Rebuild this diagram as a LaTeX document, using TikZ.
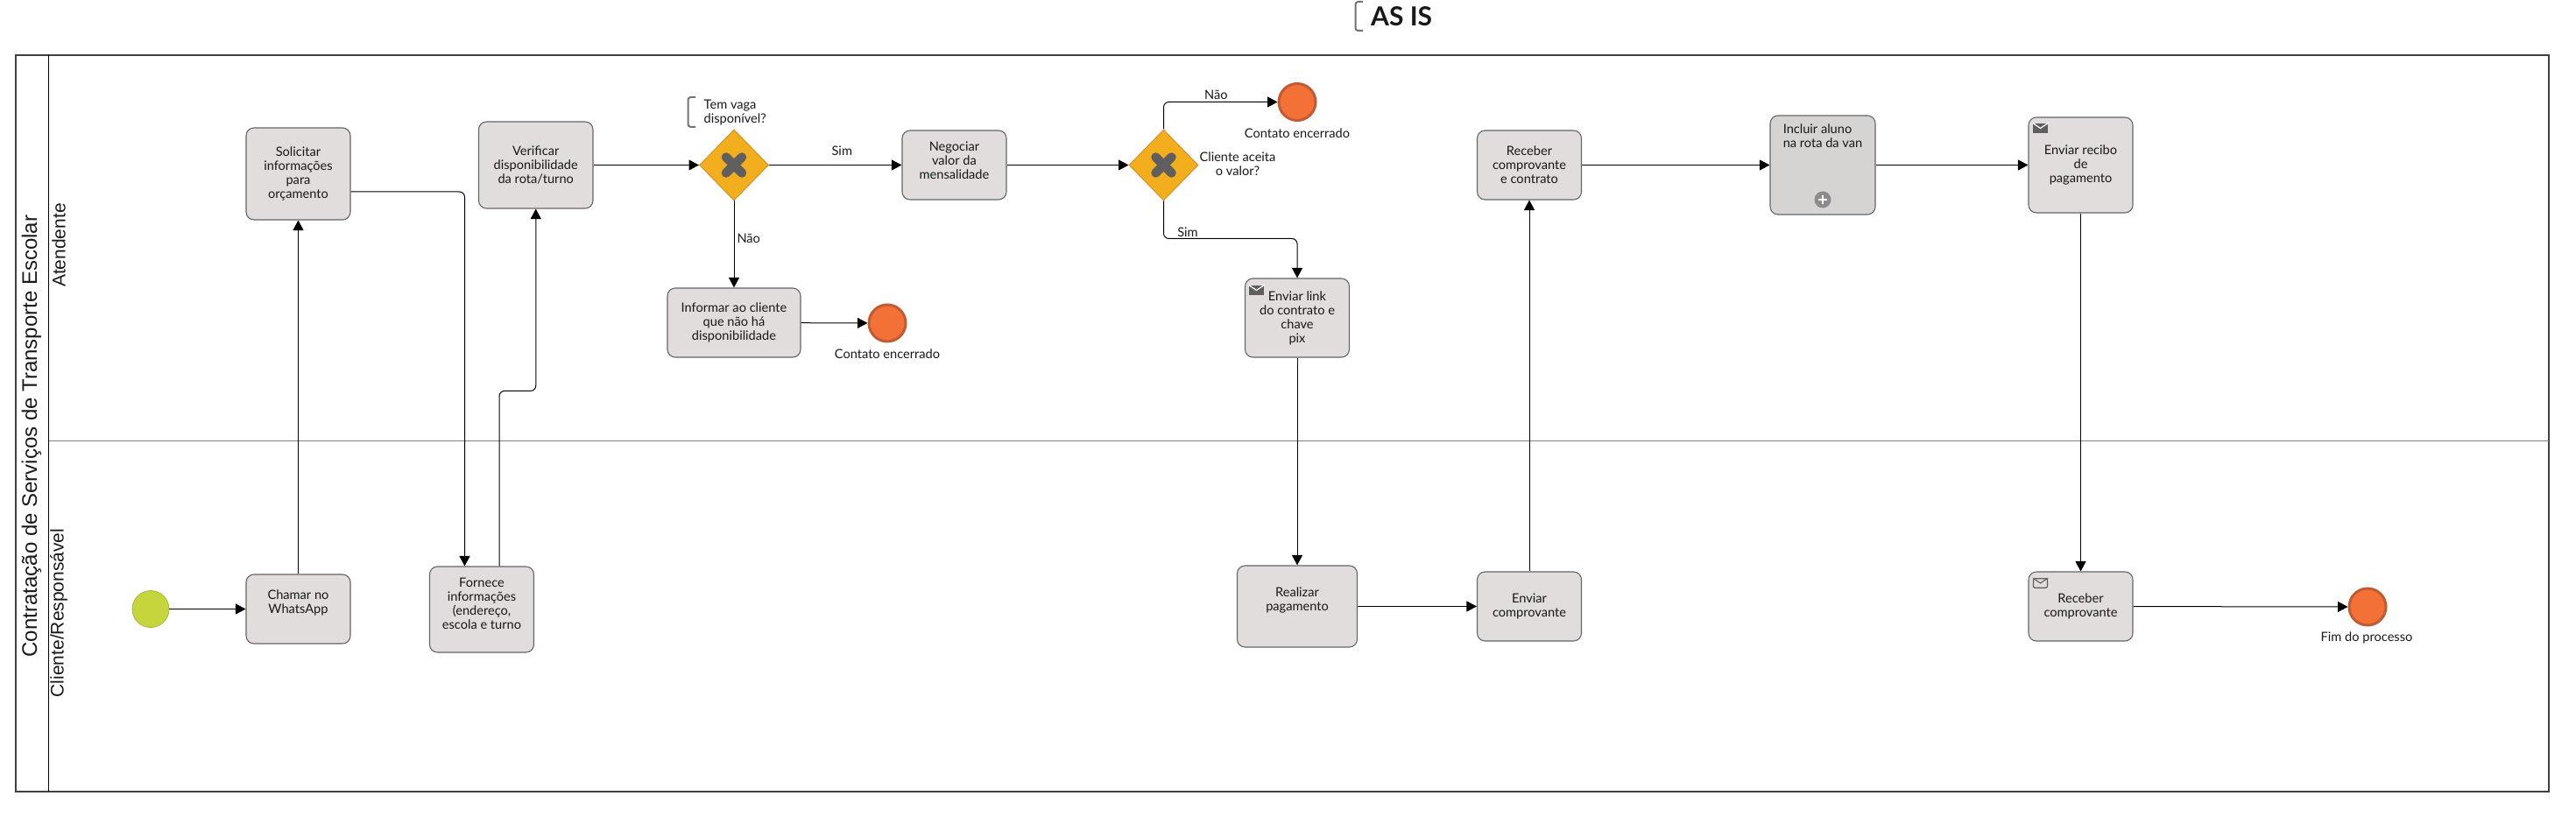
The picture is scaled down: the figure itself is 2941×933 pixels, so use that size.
\documentclass[tikz,border=0pt]{standalone}
\usepackage{fontspec}
\setmainfont{Lato}
\newfontfamily\lanefont{Liberation Sans}
\usetikzlibrary{arrows.meta,shapes.geometric}
\definecolor{taskgray}{HTML}{E0DDDC}
\definecolor{subgray}{HTML}{D6D3D3}
\definecolor{gateyellow}{HTML}{F2AE1C}
\definecolor{gateline}{HTML}{D8922A}
\definecolor{endorange}{HTML}{F37036}
\definecolor{endline}{HTML}{C05B33}
\definecolor{startgreen}{HTML}{C4D63C}
\definecolor{startline}{HTML}{A9B83A}
\definecolor{markgray}{HTML}{5F5F5F}
\begin{document}
\begin{tikzpicture}
      [x=1pt,y=-1pt,
      every node/.style={font=\fontsize{14.6}{16}\selectfont,text=black!90},
      task/.style={rectangle,rounded corners=9pt,fill=taskgray,draw=black!60,line width=1.1pt,
        align=center,inner sep=0pt,minimum width=119pt},
      gate/.style={diamond,aspect=1,fill=gateyellow,draw=gateline,line width=1pt,inner sep=0pt,
        minimum width=79pt,minimum height=81pt},
      gatex/.style={draw=markgray,line width=10.5pt,line cap=round},
      endev/.style={circle,fill=endorange,draw=endline,line width=3pt,inner sep=0pt,minimum size=42pt},
      startev/.style={circle,fill=startgreen,draw=startline,line width=.8pt,inner sep=0pt,minimum size=42pt},
      flow/.style={draw=black,line width=1pt,rounded corners=6pt,-{Triangle[length=11.5pt,width=12pt]}},
      lbl/.style={inner sep=0pt,align=center},
      bracket/.style={draw=black!55,line width=2pt,rounded corners=3pt},
      mailbox/.style={rectangle,fill=markgray,inner sep=0pt,minimum width=17pt,minimum height=11.5pt},
      lanetext/.style={font=\lanefont\fontsize{21}{24}\selectfont,rotate=90,inner sep=0pt}]
      \useasboundingbox (0,0) rectangle (2941,933);
      % pool and lanes
      \node[draw=black!75,line width=1.2pt,inner sep=0pt,minimum width=2892pt,minimum height=841pt] (pool) at (1464,483.5) { };
      \coordinate (h1) at (55.5,63);
      \coordinate (h2) at (55.5,904);
      \coordinate (s1) at (55.5,503.5);
      \coordinate (s2) at (2910,503.5);
      \draw[black,line width=1.2pt] (h1) -- (h2);
      \draw[black!50,line width=1.2pt] (s1) -- (s2);
      \node[lanetext,font=\lanefont\fontsize{24}{28}\selectfont] (pooltitle) at (36,498) {Contratação de Serviços de Transporte Escolar};
      \node[lanetext] (lane1) at (67,280) {Atendente};
      \node[lanetext] (lane2) at (67,700) {Cliente/Responsável};
      % title
      \node[lbl,anchor=west,font=\fontsize{30}{32}\bfseries\selectfont] (asis) at (1565,19) {AS IS};
      \draw[bracket] (1556,2) -- (1547.5,2) -- (1547.5,35) -- (1556,35);
      % tasks
      \node[task,minimum height=105pt] (solicitar) at (340.5,198.5) {Solicitar\\informações\\para\\orçamento};
      \node[task,minimum width=130.5pt,minimum height=99pt] (verificar) at (611.75,188.5) {Verificar\\disponibilidade\\da rota/turno};
      \node[task,minimum width=152pt,minimum height=79pt] (informar) at (838,368.5) {Informar ao cliente\\que não há\\disponibilidade};
      \node[task,minimum height=79pt] (negociar) at (1089.5,188.5) {Negociar\\valor da\\mensalidade\\[-5pt]~};
      \node[task,minimum height=90pt] (link) at (1481,363) {Enviar link\\do contrato e\\chave\\pix};
      \node[task,minimum height=79pt] (recebe) at (1746,188.5) {Receber\\comprovante\\e contrato};
      \node[task,fill=subgray,align=left,minimum width=120pt,minimum height=113pt] (incluir) at (2081,188.5) {Incluir aluno\\na rota da van\\[51pt]~};
      \node[task,minimum height=109pt] (recibo) at (2375.5,188.5) {Enviar recibo\\de\\pagamento};
      \node[task,minimum height=79pt] (chamar) at (340.5,695.5) {Chamar no\\WhatsApp\\~};
      \node[task,minimum height=98pt] (fornece) at (550,696) {Fornece\\informações\\(endereço,\\escola e turno\\[-3pt]~};
      \node[task,minimum width=137pt,minimum height=93pt] (realizar) at (1481,692.5) {Realizar\\pagamento\\~};
      \node[task,minimum height=79pt] (enviar) at (1746,692.5) {Enviar\\comprovante};
      \node[task,minimum height=79pt] (rcomp) at (2375.5,692.5) {Receber\\comprovante};
      % gateways
      \node[gate] (gw1) at (838,188.5) { };
      \node[gate] (gw2) at (1328.5,188.5) { };
      \draw[gatex] ([shift={(-9pt,-9pt)}]gw1.center) -- ([shift={(9pt,9pt)}]gw1.center);
      \draw[gatex] ([shift={(-9pt,9pt)}]gw1.center) -- ([shift={(9pt,-9pt)}]gw1.center);
      \draw[gatex] ([shift={(-9pt,-9pt)}]gw2.center) -- ([shift={(9pt,9pt)}]gw2.center);
      \draw[gatex] ([shift={(-9pt,9pt)}]gw2.center) -- ([shift={(9pt,-9pt)}]gw2.center);
      \node[lbl,align=left,anchor=west] (vaga) at (803.5,129) {Tem vaga\\disponível?};
      \draw[bracket] (794,111) -- (785.5,111) -- (785.5,145) -- (794,145);
      \node[lbl] (aceita) at (1413,187) {Cliente aceita\\o valor?};
      % events
      \node[startev] (inicio) at (172,695.5) { };
      \node[endev] (fim1) at (1013,369) { };
      \node[endev] (fim2) at (1481,116.5) { };
      \node[endev] (fim3) at (2703,693) { };
      \node[lbl] (lfim1) at (1013,404) {Contato encerrado};
      \node[lbl] (lfim2) at (1481,152) {Contato encerrado};
      \node[lbl] (lfim3) at (2702,728) {Fim do processo};
      % markers
      \node[mailbox] (m1) at (1434.5,331.5) { };
      \draw[white,line width=1.2pt] (m1.north west) -- (m1.center) -- (m1.north east);
      \node[mailbox] (m2) at (2329.5,146.5) { };
      \draw[white,line width=1.2pt] (m2.north west) -- (m2.center) -- (m2.north east);
      \node[mailbox,fill=taskgray,draw=markgray,line width=1.1pt,rounded corners=1.5pt,minimum width=16pt,minimum height=10.5pt] (m3) at (2329.5,666) { };
      \draw[markgray,line width=1.1pt] (m3.north west) -- (m3.center) -- (m3.north east);
      \node[circle,fill=black!45,inner sep=0pt,minimum size=19pt] (plus) at (2081,228) { };
      \draw[white,line width=2.4pt] ([xshift=-5pt]plus.center) -- ([xshift=5pt]plus.center);
      \draw[white,line width=2.4pt] ([yshift=-5pt]plus.center) -- ([yshift=5pt]plus.center);
      % flows
      \draw[flow] (inicio) -- (chamar);
      \draw[flow] (chamar) -- (solicitar);
      \draw[flow] ([yshift=-20.5pt]solicitar.east) -| ([xshift=-19.5pt]fornece.north);
      \draw[flow] ([xshift=20pt]fornece.north) -- ++(0,-200) -| (verificar.south);
      \draw[flow] (verificar) -- (gw1);
      \draw[flow] (gw1) -- node[lbl,pos=.55,above=10pt] (lsim1) {Sim} (negociar);
      \draw[flow] (gw1) -- node[lbl,pos=.43,right=3pt] (lnao1) {Não} (informar);
      \draw[flow] (informar) -- (fim1);
      \draw[flow] (negociar) -- (gw2);
      \draw[flow] (gw2.north) |- node[lbl,pos=.73,above=2pt] (lnao2) {Não} (fim2.west);
      \draw[flow] (gw2.south) -- ++(0,43) -| node[lbl,pos=.09,above=1pt] (lsim2) {Sim} (link.north);
      \draw[flow] (link) -- (realizar);
      \draw[flow] (realizar) -- (enviar);
      \draw[flow] (enviar) -- (recebe);
      \draw[flow] (recebe) -- (incluir);
      \draw[flow] (incluir) -- (recibo);
      \draw[flow] (recibo) -- (rcomp);
      \draw[flow] (rcomp) -- (fim3);
    \end{tikzpicture}
\end{document}
